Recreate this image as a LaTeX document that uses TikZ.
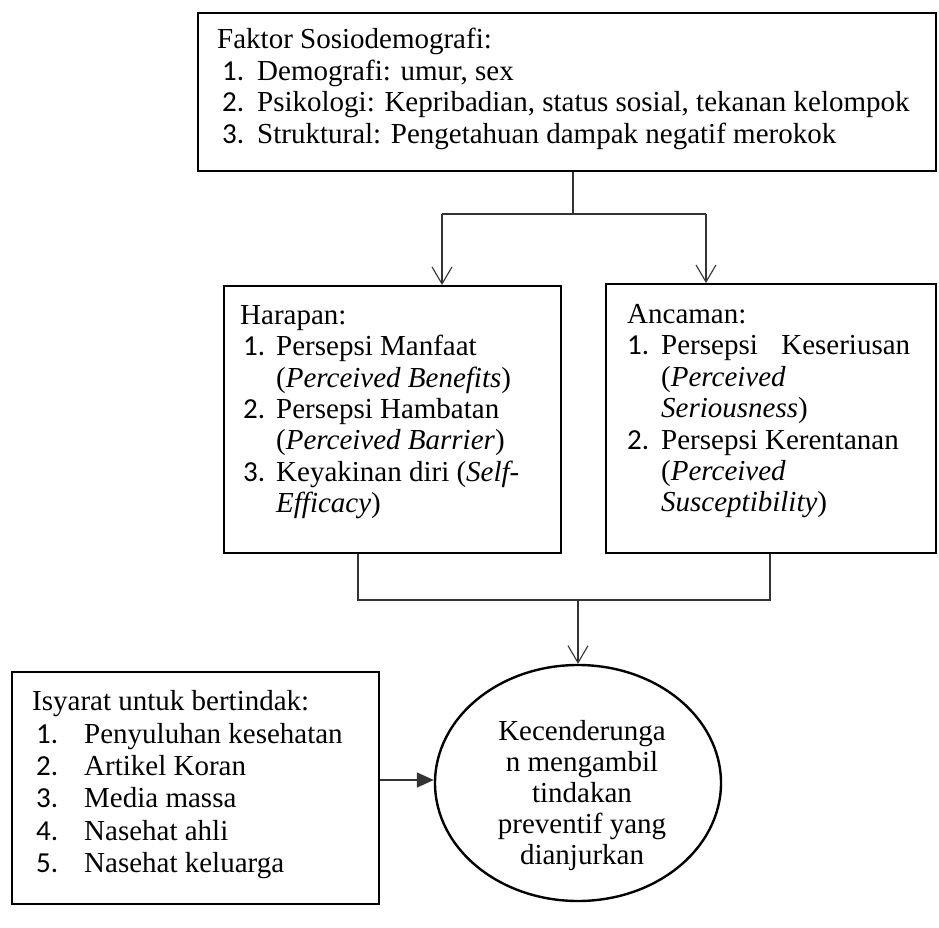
\documentclass[tikz,border=0pt]{standalone}
\usepackage{fontspec}
\setmainfont{Liberation Serif}
\newfontfamily\numfont{Carlito}
\usetikzlibrary{arrows.meta,shapes.geometric}
\begin{document}
\begin{tikzpicture}[x=1pt,y=-1pt,
  box/.style={draw=black, line width=1.6pt, inner sep=0pt, anchor=north west},
  txt/.style={anchor=base west, inner sep=0pt, font=\fontsize{29}{33}\selectfont},
  num/.style={anchor=base west, inner sep=0pt, font=\fontsize{29}{33}\selectfont\numfont},
  ctxt/.style={anchor=base, inner sep=0pt, font=\fontsize{29}{33}\selectfont},
  conn/.style={draw=black!80, line width=1.3pt},
  vhead/.style={conn, -{Straight Barb[length=17pt,width=20pt,line width=1.1pt]}},
  thead/.style={conn, -{Triangle[length=17pt,width=15pt]}}
]
\useasboundingbox (0,0) rectangle (939,928);

% boxes
\node[box, minimum width=738pt, minimum height=158pt] (top) at (197,12) {};
\node[box, minimum width=337pt, minimum height=267pt] (harapan) at (223,285) {};
\node[box, minimum width=330pt, minimum height=269pt] (ancaman) at (605,283) {};
\node[box, minimum width=367pt, minimum height=232pt] (isy) at (11,671) {};
\node[draw=black, line width=2.4pt, ellipse, inner sep=0pt,
      minimum width=286pt, minimum height=236pt] (circ) at (578,783) {};

% top box text
\node[txt] (t0) at (217,49) {Faktor Sosiodemografi:};
\node[num] (t1n) at (222,81) {1.};
\node[txt] (t1) at (257,81) {Demografi: umur, sex};
\node[num] (t2n) at (222,112) {2.};
\node[txt] (t2) at (257,112) {Psikologi: Kepribadian, status sosial, tekanan kelompok};
\node[num] (t3n) at (222,144) {3.};
\node[txt] (t3) at (257,144) {Struktural: Pengetahuan dampak negatif merokok};

% harapan text
\node[txt] (h0) at (240,324) {Harapan:};
\node[num] (h1n) at (243,355) {1.};
\node[txt] (h1) at (276,355) {Persepsi Manfaat};
\node[txt] (h1b) at (276,387) {(\textit{Perceived Benefits})};
\node[num] (h2n) at (243,418) {2.};
\node[txt] (h2) at (276,418) {Persepsi Hambatan};
\node[txt] (h2b) at (276,449) {(\textit{Perceived Barrier})};
\node[num] (h3n) at (243,481) {3.};
\node[txt] (h3) at (276,481) {Keyakinan diri (\textit{Self-}};
\node[txt] (h3b) at (276,512) {\textit{Efficacy})};

% ancaman text
\node[txt] (a0) at (627,323) {Ancaman:};
\node[num] (a1n) at (627,354) {1.};
\node[txt] (a1) at (661,354) {\hbox to 249pt{Persepsi\hfill Keseriusan}};
\node[txt] (a1b) at (661,386) {(\textit{Perceived}};
\node[txt] (a1c) at (661,417) {\textit{Seriousness})};
\node[num] (a2n) at (627,449) {2.};
\node[txt] (a2) at (661,449) {Persepsi Kerentanan};
\node[txt] (a2b) at (661,480) {(\textit{Perceived}};
\node[txt] (a2c) at (661,511) {\textit{Susceptibility})};

% isyarat text
\node[txt] (i0) at (32,710) {Isyarat untuk bertindak:};
\node[num] (i1n) at (36,743) {1.};
\node[txt] (i1) at (84,743) {Penyuluhan kesehatan};
\node[num] (i2n) at (36,775) {2.};
\node[txt] (i2) at (84,775) {Artikel Koran};
\node[num] (i3n) at (36,807) {3.};
\node[txt] (i3) at (84,807) {Media massa};
\node[num] (i4n) at (36,840) {4.};
\node[txt] (i4) at (84,840) {Nasehat ahli};
\node[num] (i5n) at (36,872) {5.};
\node[txt] (i5) at (84,872) {Nasehat keluarga};

% circle text
\node[ctxt] (c1) at (582,740) {Kecenderunga};
\node[ctxt] (c2) at (582,771) {n mengambil};
\node[ctxt] (c3) at (582,802) {tindakan};
\node[ctxt] (c4) at (582,833) {preventif yang};
\node[ctxt] (c5) at (582,864) {dianjurkan};

% connectors
\coordinate (j1) at (573,214);
\coordinate (bl) at (442,214);
\coordinate (br) at (706,214);
\draw[conn] (top.south -| j1) -- (j1);
\draw[conn] (bl) -- (br);
\draw[vhead] (bl) -- (bl |- harapan.north);
\draw[vhead] (br) -- (br |- ancaman.north);

\coordinate (cl) at (358,600);
\coordinate (cr) at (770,600);
\coordinate (cm) at (578,600);
\draw[conn] (harapan.south -| cl) -- (cl) -- (cr) -- (ancaman.south -| cr);
\draw[vhead] (cm) -- (circ.north);

\coordinate (ay) at (0,780);
\draw[thead] (isy.east |- ay) -- (circ.west |- ay);
\end{tikzpicture}
\end{document}
